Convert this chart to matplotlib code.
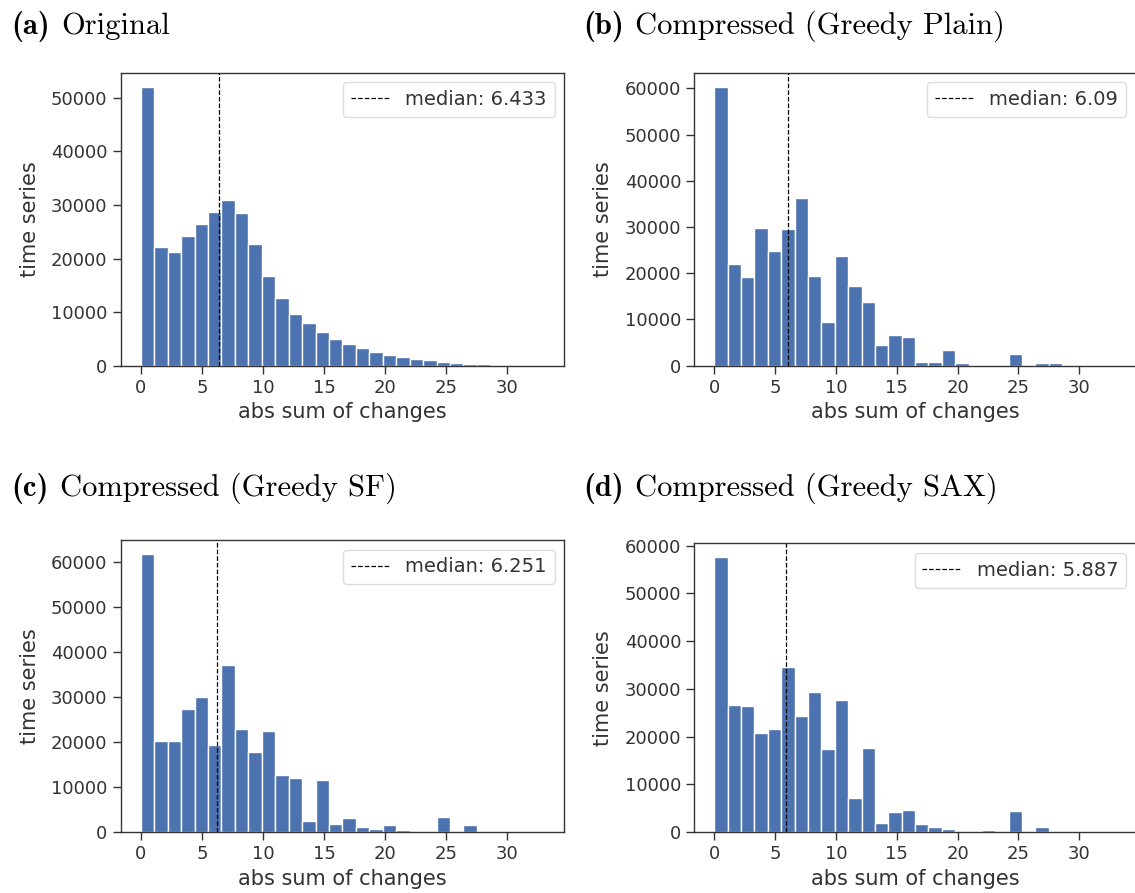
import numpy as np
import matplotlib
matplotlib.use('Agg')
import matplotlib.pyplot as plt

# 30 bins of width 1.1 from 0 to 33
bin_edges = np.linspace(0, 33, 31)

titles = ['(a)', '(b)', '(c)', '(d)']
names = ['Original', 'Compressed (Greedy Plain)',
         'Compressed (Greedy SF)', 'Compressed (Greedy SAX)']
medians = [6.433, 6.09, 6.251, 5.887]

counts_orig = [52100, 22250, 21250, 24250, 26450, 28700, 30900, 28450, 22750, 16800,
               12600, 9600, 7950, 6250, 5000, 4000, 3300, 2500, 2000, 1550,
               1250, 1000, 750, 500, 320, 250, 150, 50, 20, 10]
counts_plain = [60400, 22100, 19200, 29800, 24900, 29500, 36400, 19500, 9400, 23800,
                17200, 13800, 4400, 6600, 6300, 870, 870, 3500, 600, 0,
                0, 0, 2600, 0, 600, 600, 0, 0, 0, 0]
counts_sf = [61900, 20300, 20300, 27500, 30100, 19400, 37200, 22900, 17800, 22600,
             12800, 12000, 2600, 11700, 1800, 3100, 1100, 800, 1700, 500,
             0, 0, 3500, 0, 1700, 0, 0, 0, 0, 0]
counts_sax = [57600, 26600, 26400, 20800, 21600, 34600, 24400, 29400, 17500, 27700,
              7200, 17700, 1900, 4200, 4600, 1700, 1050, 770, 280, 280,
              490, 0, 4400, 0, 1050, 0, 0, 200, 0, 0]
all_counts = [counts_orig, counts_plain, counts_sf, counts_sax]

yticks_list = [np.arange(0, 50001, 10000)] + [np.arange(0, 60001, 10000)] * 3

# axes boxes in figure fraction [left, bottom, width, height]
boxes = [[0.1063, 0.5905, 0.3909, 0.3281],
         [0.6117, 0.5905, 0.3890, 0.3281],
         [0.1063, 0.0680, 0.3909, 0.3273],
         [0.6117, 0.0680, 0.3890, 0.3236]]
title_pos = [(0.010, 0.962), (0.514, 0.962), (0.010, 0.445), (0.514, 0.445)]

fig = plt.figure(figsize=(11.35, 8.93), dpi=100)
for i in range(4):
    ax = fig.add_axes(boxes[i])
    ax.bar(bin_edges[:-1], all_counts[i], width=1.1, align='edge',
           color='#4c72b0', edgecolor='white', linewidth=1.0)
    ax.axvline(medians[i], color='black', linestyle='--', linewidth=0.9,
               label='median: %s' % medians[i])
    ax.set_xlim(-1.65, 34.65)
    ax.set_ylim(0, max(all_counts[i]) * 1.05)
    ax.set_xticks([0, 5, 10, 15, 20, 25, 30])
    ax.set_yticks(yticks_list[i])
    ax.tick_params(labelsize=13, colors='#333333', length=6, width=1.0)
    for sp in ax.spines.values():
        sp.set_color('#333333')
        sp.set_linewidth(1.0)
    ax.set_xlabel('abs sum of changes', fontsize=15, color='#333333', labelpad=4)
    ax.set_ylabel('time series', fontsize=15, color='#333333', labelpad=8)
    leg = ax.legend(loc='upper right', fontsize=14, handlelength=2.0,
                    fancybox=True, framealpha=1.0)
    leg.get_frame().set_edgecolor('#dddddd')
    for t in leg.get_texts():
        t.set_color('#333333')

# panel captions: bold label in cmb10, caption in cmr10
renderer = fig.canvas.get_renderer()
for i in range(4):
    x, y = title_pos[i]
    t1 = fig.text(x, y, titles[i], family='cmb10', fontsize=22,
                  ha='left', va='baseline')
    w = t1.get_window_extent(renderer=renderer).width / fig.bbox.width
    fig.text(x + w + 0.010, y, names[i], family='cmr10', fontsize=22,
             ha='left', va='baseline')

fig.savefig('out.png', dpi=100)
